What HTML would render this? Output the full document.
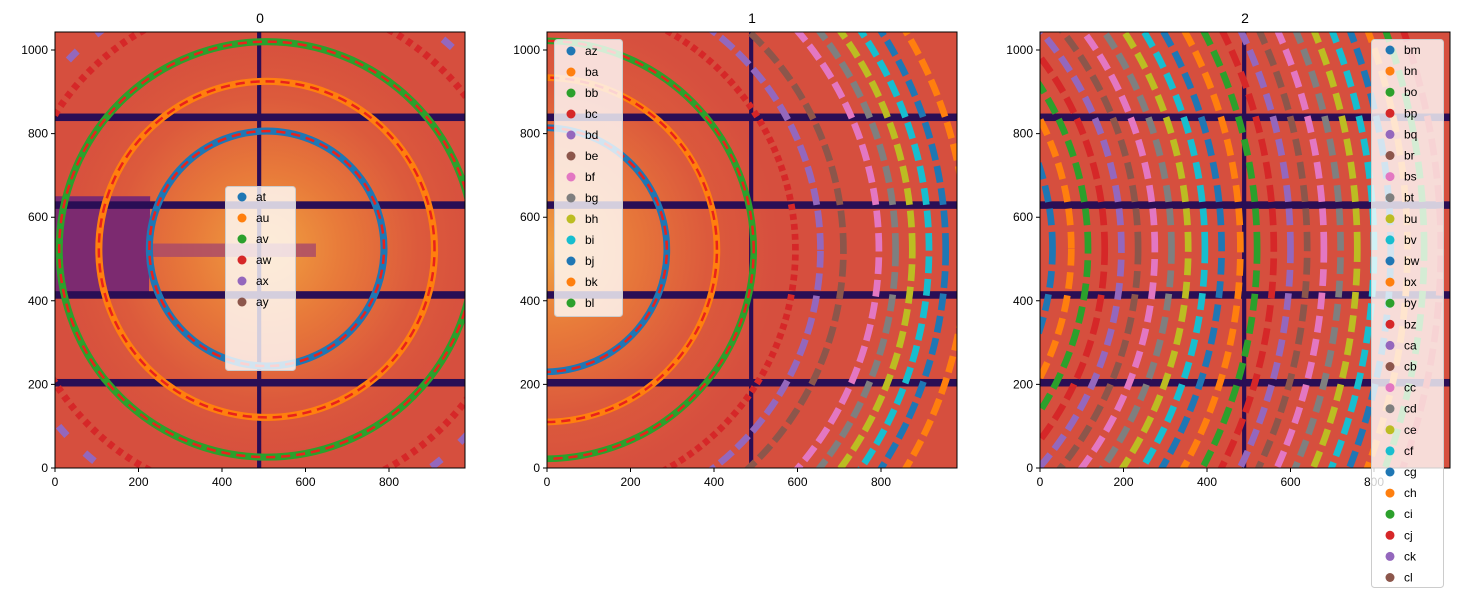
<!DOCTYPE html>
<html><head><meta charset="utf-8"><style>
html,body{margin:0;background:#fff;width:1459px;height:598px;overflow:hidden;font-family:"Liberation Sans",sans-serif}
svg{position:absolute;left:0;top:0;display:block}
text{font-family:"Liberation Sans",sans-serif}
</style></head><body>
<svg width="1459" height="598" viewBox="0 0 1459 598">
<defs>
<clipPath id="c0"><rect x="0" y="0" width="981" height="1043"/></clipPath>
<radialGradient id="g0" gradientUnits="userSpaceOnUse" cx="507" cy="525" r="520">
<stop offset="0" stop-color="#f0a040"/><stop offset="0.35" stop-color="#e87a3a"/><stop offset="0.7" stop-color="#dc5a3c"/><stop offset="1" stop-color="#d64f3e"/></radialGradient>
<radialGradient id="g1" gradientUnits="userSpaceOnUse" cx="-5" cy="522" r="560">
<stop offset="0" stop-color="#f0a040"/><stop offset="0.35" stop-color="#e87a3a"/><stop offset="0.7" stop-color="#dc5a3c"/><stop offset="1" stop-color="#d64f3e"/></radialGradient>
</defs>

<g transform="translate(55,468) scale(0.4175,-0.418)">
<g clip-path="url(#c0)">
<rect x="0" y="0" width="981" height="1043" fill="url(#g0)"/>
<path d="M0 410 L225 410 L228 650 L0 650Z" fill="#7c2a70"/>
<rect x="225" y="505" width="400" height="32" fill="#a8486a" opacity="0.8"/>
<g fill="#2a0e55"><rect x="0" y="830" width="981" height="18"/><rect x="0" y="620" width="981" height="18"/><rect x="0" y="405" width="981" height="18"/><rect x="0" y="195" width="981" height="18"/><rect x="484" y="0" width="10" height="1043"/></g>
<g fill="none" stroke-width="17">
<circle cx="507" cy="525" r="281" stroke="#1f77b4"/>
<circle cx="507" cy="523" r="402" stroke="#ff7f0e"/>
<circle cx="507" cy="523" r="497" stroke="#2ca02c"/>
<circle cx="507" cy="525" r="600" stroke="#d62728" stroke-dasharray="14 12"/>
<circle cx="507" cy="525" r="655" stroke="#9467bd" stroke-dasharray="30 60"/>
</g>
<g fill="none" stroke="#e8221c" stroke-width="6" stroke-dasharray="22 14">
<circle cx="507" cy="525" r="281"/><circle cx="507" cy="523" r="402"/><circle cx="507" cy="523" r="497"/>
</g>
</g></g>
<rect x="55" y="32" width="410" height="436" fill="none" stroke="#000" stroke-width="1"/>

<g transform="translate(547,468) scale(0.4175,-0.418)">
<g clip-path="url(#c0)">
<rect x="0" y="0" width="981" height="1043" fill="url(#g1)"/>
<g fill="#2a0e55"><rect x="0" y="830" width="981" height="18"/><rect x="0" y="620" width="981" height="18"/><rect x="0" y="405" width="981" height="18"/><rect x="0" y="195" width="981" height="18"/><rect x="484" y="0" width="10" height="1043"/></g>
<g fill="none" stroke-width="16">
<circle cx="-5" cy="522" r="292" stroke="#1f77b4"/>
<circle cx="-5" cy="522" r="412" stroke="#ff7f0e"/>
<circle cx="-5" cy="522" r="500" stroke="#2ca02c"/>
<circle cx="-5" cy="522" r="600" stroke="#d62728" stroke-dasharray="14 10"/>
<circle cx="-5" cy="522" r="660" stroke="#9467bd" stroke-dasharray="40 14"/>
<circle cx="-5" cy="522" r="715" stroke="#8c564b" stroke-dasharray="40 14"/>
<circle cx="-5" cy="522" r="800" stroke="#e377c2" stroke-dasharray="40 14"/>
<circle cx="-5" cy="522" r="840" stroke="#7f7f7f" stroke-dasharray="40 14"/>
<circle cx="-5" cy="522" r="880" stroke="#bcbd22" stroke-dasharray="40 14"/>
<circle cx="-5" cy="522" r="920" stroke="#17becf" stroke-dasharray="40 14"/>
<circle cx="-5" cy="522" r="960" stroke="#1f77b4" stroke-dasharray="40 14"/>
<circle cx="-5" cy="522" r="1010" stroke="#ff7f0e" stroke-dasharray="40 14"/>
</g>
<g fill="none" stroke="#e8221c" stroke-width="6" stroke-dasharray="22 14">
<circle cx="-5" cy="522" r="292"/><circle cx="-5" cy="522" r="412"/><circle cx="-5" cy="522" r="500"/>
</g>
</g></g>
<rect x="547" y="32" width="410" height="436" fill="none" stroke="#000" stroke-width="1"/>

<g transform="translate(1040,468) scale(0.4175,-0.418)">
<g clip-path="url(#c0)">
<rect x="0" y="0" width="981" height="1043" fill="#d64f3e"/>
<g fill="#2a0e55"><rect x="0" y="830" width="981" height="18"/><rect x="0" y="620" width="981" height="18"/><rect x="0" y="405" width="981" height="18"/><rect x="0" y="195" width="981" height="18"/><rect x="484" y="0" width="10" height="1043"/></g>
<g fill="none" stroke-width="16" stroke-dasharray="40 16">
<circle cx="-600" cy="525" r="630" stroke="#1f77b4"/>
<circle cx="-600" cy="525" r="675" stroke="#ff7f0e"/>
<circle cx="-600" cy="525" r="715" stroke="#2ca02c"/>
<circle cx="-600" cy="525" r="755" stroke="#d62728"/>
<circle cx="-600" cy="525" r="795" stroke="#9467bd"/>
<circle cx="-600" cy="525" r="835" stroke="#8c564b"/>
<circle cx="-600" cy="525" r="875" stroke="#e377c2"/>
<circle cx="-600" cy="525" r="915" stroke="#7f7f7f"/>
<circle cx="-600" cy="525" r="955" stroke="#bcbd22"/>
<circle cx="-600" cy="525" r="995" stroke="#17becf"/>
<circle cx="-600" cy="525" r="1035" stroke="#1f77b4"/>
<circle cx="-600" cy="525" r="1080" stroke="#ff7f0e"/>
<circle cx="-600" cy="525" r="1120" stroke="#2ca02c"/>
<circle cx="-600" cy="525" r="1160" stroke="#d62728"/>
<circle cx="-600" cy="525" r="1200" stroke="#9467bd"/>
<circle cx="-600" cy="525" r="1240" stroke="#8c564b"/>
<circle cx="-600" cy="525" r="1280" stroke="#e377c2"/>
<circle cx="-600" cy="525" r="1320" stroke="#7f7f7f"/>
<circle cx="-600" cy="525" r="1360" stroke="#bcbd22"/>
<circle cx="-600" cy="525" r="1400" stroke="#17becf"/>
<circle cx="-600" cy="525" r="1440" stroke="#1f77b4"/>
<circle cx="-600" cy="525" r="1480" stroke="#ff7f0e"/>
<circle cx="-600" cy="525" r="1520" stroke="#2ca02c"/>
<circle cx="-600" cy="525" r="1560" stroke="#d62728"/>
</g>
</g></g>
<rect x="1040" y="32" width="410" height="436" fill="none" stroke="#000" stroke-width="1"/>

<g font-size="14" text-anchor="middle" fill="#000">
<text x="260" y="23">0</text><text x="752" y="23">1</text><text x="1245" y="23">2</text>
</g>

<g stroke="#000" stroke-width="1">
<path d="M55 468v4M138.5 468v4M222 468v4M305.5 468v4M389 468v4M55 468h-4M55 384.4h-4M55 300.8h-4M55 217.2h-4M55 133.6h-4M55 50h-4"/>
<path d="M547 468v4M630.5 468v4M714 468v4M797.5 468v4M881 468v4M547 468h-4M547 384.4h-4M547 300.8h-4M547 217.2h-4M547 133.6h-4M547 50h-4"/>
<path d="M1040 468v4M1123.5 468v4M1207 468v4M1290.5 468v4M1374 468v4M1040 468h-4M1040 384.4h-4M1040 300.8h-4M1040 217.2h-4M1040 133.6h-4M1040 50h-4"/>
</g>
<g font-size="12" fill="#000" text-anchor="middle">
<text x="55" y="486">0</text><text x="138.5" y="486">200</text><text x="222" y="486">400</text><text x="305.5" y="486">600</text><text x="389" y="486">800</text>
<text x="547" y="486">0</text><text x="630.5" y="486">200</text><text x="714" y="486">400</text><text x="797.5" y="486">600</text><text x="881" y="486">800</text>
<text x="1040" y="486">0</text><text x="1123.5" y="486">200</text><text x="1207" y="486">400</text><text x="1290.5" y="486">600</text><text x="1374" y="486">800</text>
</g>
<g font-size="12" fill="#000" text-anchor="end">
<text x="48" y="472">0</text><text x="48" y="388.4">200</text><text x="48" y="304.8">400</text><text x="48" y="221.2">600</text><text x="48" y="137.6">800</text><text x="48" y="54">1000</text>
<text x="540" y="472">0</text><text x="540" y="388.4">200</text><text x="540" y="304.8">400</text><text x="540" y="221.2">600</text><text x="540" y="137.6">800</text><text x="540" y="54">1000</text>
<text x="1033" y="472">0</text><text x="1033" y="388.4">200</text><text x="1033" y="304.8">400</text><text x="1033" y="221.2">600</text><text x="1033" y="137.6">800</text><text x="1033" y="54">1000</text>
</g>

<rect x="225.5" y="186.5" width="70" height="184" rx="3" fill="#fff" fill-opacity="0.8" stroke="#ccc"/>
<g font-size="12" fill="#000">
<circle cx="242" cy="197" r="4.5" fill="#1f77b4"/><text x="256" y="201">at</text>
<circle cx="242" cy="218" r="4.5" fill="#ff7f0e"/><text x="256" y="222">au</text>
<circle cx="242" cy="239" r="4.5" fill="#2ca02c"/><text x="256" y="243">av</text>
<circle cx="242" cy="260" r="4.5" fill="#d62728"/><text x="256" y="264">aw</text>
<circle cx="242" cy="281" r="4.5" fill="#9467bd"/><text x="256" y="285">ax</text>
<circle cx="242" cy="302" r="4.5" fill="#8c564b"/><text x="256" y="306">ay</text>
</g>

<rect x="554.5" y="39.5" width="68" height="277" rx="3" fill="#fff" fill-opacity="0.8" stroke="#ccc"/>
<g font-size="12" fill="#000">
<circle cx="571" cy="51" r="4.5" fill="#1f77b4"/><text x="585" y="55">az</text>
<circle cx="571" cy="72" r="4.5" fill="#ff7f0e"/><text x="585" y="76">ba</text>
<circle cx="571" cy="93" r="4.5" fill="#2ca02c"/><text x="585" y="97">bb</text>
<circle cx="571" cy="114" r="4.5" fill="#d62728"/><text x="585" y="118">bc</text>
<circle cx="571" cy="135" r="4.5" fill="#9467bd"/><text x="585" y="139">bd</text>
<circle cx="571" cy="156" r="4.5" fill="#8c564b"/><text x="585" y="160">be</text>
<circle cx="571" cy="177" r="4.5" fill="#e377c2"/><text x="585" y="181">bf</text>
<circle cx="571" cy="198" r="4.5" fill="#7f7f7f"/><text x="585" y="202">bg</text>
<circle cx="571" cy="219" r="4.5" fill="#bcbd22"/><text x="585" y="223">bh</text>
<circle cx="571" cy="240" r="4.5" fill="#17becf"/><text x="585" y="244">bi</text>
<circle cx="571" cy="261" r="4.5" fill="#1f77b4"/><text x="585" y="265">bj</text>
<circle cx="571" cy="282" r="4.5" fill="#ff7f0e"/><text x="585" y="286">bk</text>
<circle cx="571" cy="303" r="4.5" fill="#2ca02c"/><text x="585" y="307">bl</text>
</g>

<rect x="1371.5" y="39.5" width="72" height="548" rx="3" fill="#fff" fill-opacity="0.8" stroke="#ccc"/>
<g font-size="12" fill="#000">
<circle cx="1390" cy="50" r="4.5" fill="#1f77b4"/><text x="1404" y="54">bm</text>
<circle cx="1390" cy="71.1" r="4.5" fill="#ff7f0e"/><text x="1404" y="75.1">bn</text>
<circle cx="1390" cy="92.2" r="4.5" fill="#2ca02c"/><text x="1404" y="96.2">bo</text>
<circle cx="1390" cy="113.3" r="4.5" fill="#d62728"/><text x="1404" y="117.3">bp</text>
<circle cx="1390" cy="134.4" r="4.5" fill="#9467bd"/><text x="1404" y="138.4">bq</text>
<circle cx="1390" cy="155.5" r="4.5" fill="#8c564b"/><text x="1404" y="159.5">br</text>
<circle cx="1390" cy="176.6" r="4.5" fill="#e377c2"/><text x="1404" y="180.6">bs</text>
<circle cx="1390" cy="197.7" r="4.5" fill="#7f7f7f"/><text x="1404" y="201.7">bt</text>
<circle cx="1390" cy="218.8" r="4.5" fill="#bcbd22"/><text x="1404" y="222.8">bu</text>
<circle cx="1390" cy="239.9" r="4.5" fill="#17becf"/><text x="1404" y="243.9">bv</text>
<circle cx="1390" cy="261" r="4.5" fill="#1f77b4"/><text x="1404" y="265">bw</text>
<circle cx="1390" cy="282.1" r="4.5" fill="#ff7f0e"/><text x="1404" y="286.1">bx</text>
<circle cx="1390" cy="303.2" r="4.5" fill="#2ca02c"/><text x="1404" y="307.2">by</text>
<circle cx="1390" cy="324.3" r="4.5" fill="#d62728"/><text x="1404" y="328.3">bz</text>
<circle cx="1390" cy="345.4" r="4.5" fill="#9467bd"/><text x="1404" y="349.4">ca</text>
<circle cx="1390" cy="366.5" r="4.5" fill="#8c564b"/><text x="1404" y="370.5">cb</text>
<circle cx="1390" cy="387.6" r="4.5" fill="#e377c2"/><text x="1404" y="391.6">cc</text>
<circle cx="1390" cy="408.7" r="4.5" fill="#7f7f7f"/><text x="1404" y="412.7">cd</text>
<circle cx="1390" cy="429.8" r="4.5" fill="#bcbd22"/><text x="1404" y="433.8">ce</text>
<circle cx="1390" cy="450.9" r="4.5" fill="#17becf"/><text x="1404" y="454.9">cf</text>
<circle cx="1390" cy="472" r="4.5" fill="#1f77b4"/><text x="1404" y="476">cg</text>
<circle cx="1390" cy="493.1" r="4.5" fill="#ff7f0e"/><text x="1404" y="497.1">ch</text>
<circle cx="1390" cy="514.2" r="4.5" fill="#2ca02c"/><text x="1404" y="518.2">ci</text>
<circle cx="1390" cy="535.3" r="4.5" fill="#d62728"/><text x="1404" y="539.3">cj</text>
<circle cx="1390" cy="556.4" r="4.5" fill="#9467bd"/><text x="1404" y="560.4">ck</text>
<circle cx="1390" cy="577.5" r="4.5" fill="#8c564b"/><text x="1404" y="581.5">cl</text>
</g>
</svg>
</body></html>
